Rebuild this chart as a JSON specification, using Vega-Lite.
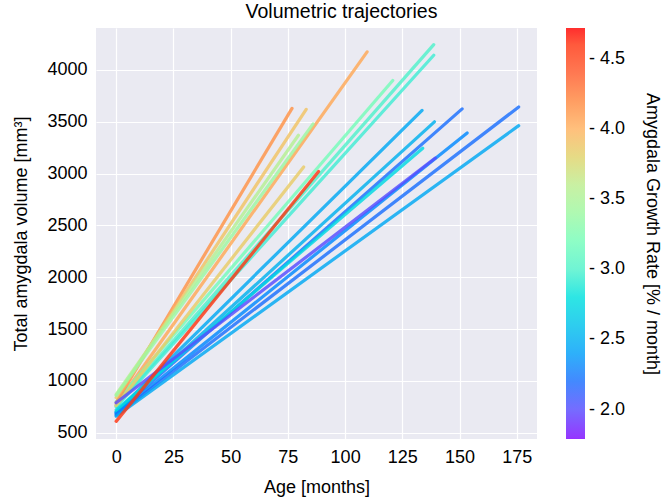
{
  "$schema": "https://vega.github.io/schema/vega-lite/v6.json",
  "width": 441,
  "height": 411,
  "padding": {"left": 12, "top": 1, "right": 2, "bottom": 2},
  "title": {"text": "Volumetric trajectories", "fontSize": 19.5, "fontWeight": "normal", "color": "black", "anchor": "middle", "dx": 25, "offset": 6},
  "config": {
    "font": "Liberation Sans",
    "view": {"fill": "#EAEAF2", "stroke": null},
    "axis": {"labelFontSize": 18, "titleFontSize": 18, "titleFontWeight": "normal", "labelColor": "black", "titleColor": "black", "ticks": false, "domain": false, "gridColor": "white", "gridWidth": 1.2, "labelPadding": 9}
  },
  "data": {"values": [
    {"id": 1, "age": 0, "vol": 770, "rate": 4.05},
    {"id": 1, "age": 109.6, "vol": 4175, "rate": 4.05},
    {"id": 2, "age": 0, "vol": 760, "rate": 3.0},
    {"id": 2, "age": 138.7, "vol": 4245, "rate": 3.0},
    {"id": 3, "age": 0, "vol": 750, "rate": 2.9},
    {"id": 3, "age": 138.7, "vol": 4142, "rate": 2.9},
    {"id": 4, "age": 0, "vol": 800, "rate": 3.2},
    {"id": 4, "age": 120.8, "vol": 3898, "rate": 3.2},
    {"id": 5, "age": 0, "vol": 790, "rate": 4.15},
    {"id": 5, "age": 76.8, "vol": 3630, "rate": 4.15},
    {"id": 6, "age": 0, "vol": 840, "rate": 3.9},
    {"id": 6, "age": 83, "vol": 3620, "rate": 3.9},
    {"id": 7, "age": 0, "vol": 870, "rate": 3.55},
    {"id": 7, "age": 79.6, "vol": 3370, "rate": 3.55},
    {"id": 8, "age": 0, "vol": 860, "rate": 3.4},
    {"id": 8, "age": 86, "vol": 3480, "rate": 3.4},
    {"id": 9, "age": 0, "vol": 760, "rate": 3.85},
    {"id": 9, "age": 81.9, "vol": 3065, "rate": 3.85},
    {"id": 11, "age": 0, "vol": 700, "rate": 2.45},
    {"id": 11, "age": 133.6, "vol": 3610, "rate": 2.45},
    {"id": 12, "age": 0, "vol": 690, "rate": 2.2},
    {"id": 12, "age": 151.1, "vol": 3625, "rate": 2.2},
    {"id": 13, "age": 0, "vol": 700, "rate": 2.5},
    {"id": 13, "age": 139, "vol": 3500, "rate": 2.5},
    {"id": 14, "age": 0, "vol": 680, "rate": 2.3},
    {"id": 14, "age": 153.3, "vol": 3393, "rate": 2.3},
    {"id": 15, "age": 0, "vol": 720, "rate": 2.75},
    {"id": 15, "age": 133.9, "vol": 3245, "rate": 2.75},
    {"id": 17, "age": 0, "vol": 670, "rate": 2.2},
    {"id": 17, "age": 175.8, "vol": 3643, "rate": 2.2},
    {"id": 18, "age": 0, "vol": 660, "rate": 2.45},
    {"id": 18, "age": 175.8, "vol": 3463, "rate": 2.45},
    {"id": 19, "age": 0, "vol": 790, "rate": 2.0},
    {"id": 19, "age": 139.4, "vol": 3150, "rate": 2.0},
    {"id": 20, "age": 0, "vol": 610, "rate": 4.6},
    {"id": 20, "age": 88.4, "vol": 3020, "rate": 4.6}
  ]},
  "mark": {"type": "line", "strokeWidth": 3.2, "opacity": 0.82, "strokeCap": "round"},
  "encoding": {
    "x": {"field": "age", "type": "quantitative", "title": "Age [months]", "scale": {"domain": [-8.8, 183.8], "nice": false, "zero": false}, "axis": {"values": [0, 25, 50, 75, 100, 125, 150, 175], "titlePadding": 12}},
    "y": {"field": "vol", "type": "quantitative", "title": "Total amygdala volume [mm³]", "scale": {"domain": [440, 4405], "nice": false, "zero": false}, "axis": {"values": [500, 1000, 1500, 2000, 2500, 3000, 3500, 4000], "format": "d", "titlePadding": 16}},
    "detail": {"field": "id", "type": "nominal"},
    "order": {"field": "age", "type": "quantitative"},
    "color": {
      "field": "rate", "type": "quantitative",
      "scale": {
        "domain": [1.79, 2.15625, 2.5225, 2.88875, 3.255, 3.62125, 3.9875, 4.35375, 4.72],
        "range": ["#7f00ff", "#4062fa", "#00b5eb", "#40ecd4", "#80ffb4", "#c0ec8e", "#ffb462", "#ff6232", "#ff0000"]
      },
      "legend": {
        "title": "Amygdala Growth Rate [% / month]",
        "offset": 29, "gradientLength": 411, "gradientThickness": 19, "gradientStrokeWidth": 0,
        "values": [2, 2.5, 3, 3.5, 4, 4.5],
        "labelExpr": "'- ' + format(datum.value, '.1f')",
        "labelFontSize": 18, "labelColor": "black", "labelOffset": 4, "labelOverlap": false,
        "titleOrient": "right", "titleAnchor": "middle", "titleFontSize": 18, "titleFontWeight": "normal", "titleColor": "black", "titlePadding": 18, "titleLimit": 600
      }
    }
  }
}
